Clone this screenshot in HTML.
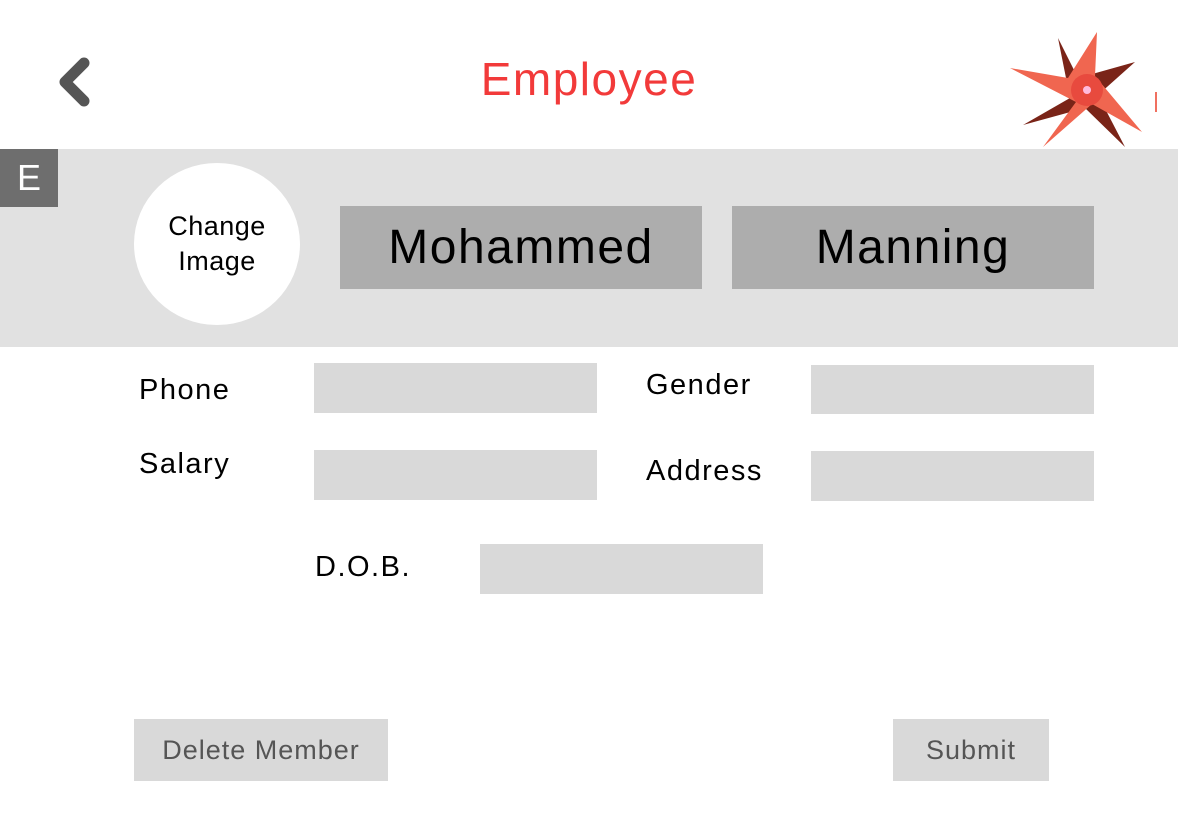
<!DOCTYPE html>
<html><head><style>
body{margin:0;width:1178px;height:838px;background:#fff;position:relative;overflow:hidden;font-family:"Liberation Sans",sans-serif}
.a{position:absolute}
.f{position:absolute;background:#d9d9d9}
.l{position:absolute;font-size:29px;color:#000;line-height:1;letter-spacing:1.5px}
</style></head><body>
<svg class="a" style="left:0;top:0" width="1178" height="160">
<polyline points="84,63 65,82 84,101" fill="none" stroke="#555" stroke-width="11" stroke-linecap="round" stroke-linejoin="round"/>
<polygon points="1058,38 1078,78 1135,62 1098,95 1125,147 1085,108 1023,125 1070,98" fill="#7a2418"/>
<polygon points="1097,32 1095,76 1142,132 1092,104 1043,147 1076,102 1010,68 1068,78" fill="#f06650"/>
<circle cx="1087" cy="90" r="16" fill="#e84a3e"/>
<circle cx="1087" cy="90" r="4" fill="#fbd"/>
<rect x="1155" y="92" width="2" height="20" fill="#f07060"/>
</svg>
<div class="a" style="left:0;top:56px;width:1178px;text-align:center;font-size:46px;color:#f23a3a;line-height:1;letter-spacing:1.5px">Employee</div>
<div class="a" style="left:0;top:149px;width:1178px;height:198px;background:#e1e1e1"></div>
<div class="a" style="left:0;top:149px;width:58px;height:58px;background:#6e6e6e;color:#fff;font-size:36px;line-height:58px;text-align:center">E</div>
<div class="a" style="left:134px;top:163px;width:166px;height:162px;border-radius:50%;background:#fff;display:flex;align-items:center;justify-content:center;text-align:center;font-size:27px;line-height:35px;letter-spacing:0.5px">Change<br>Image</div>
<div class="a" style="left:340px;top:206px;width:362px;height:83px;background:#adadad;font-size:48px;line-height:83px;text-align:center;letter-spacing:1.5px">Mohammed</div>
<div class="a" style="left:732px;top:206px;width:362px;height:83px;background:#adadad;font-size:48px;line-height:83px;text-align:center;letter-spacing:1.5px">Manning</div>
<div class="l" style="left:139px;top:376px">Phone</div>
<div class="l" style="left:139px;top:450px">Salary</div>
<div class="l" style="left:646px;top:371px">Gender</div>
<div class="l" style="left:646px;top:457px">Address</div>
<div class="l" style="left:315px;top:553px">D.O.B.</div>
<div class="f" style="left:314px;top:363px;width:283px;height:50px"></div>
<div class="f" style="left:314px;top:450px;width:283px;height:50px"></div>
<div class="f" style="left:811px;top:365px;width:283px;height:49px"></div>
<div class="f" style="left:811px;top:451px;width:283px;height:50px"></div>
<div class="f" style="left:480px;top:544px;width:283px;height:50px"></div>
<div class="f" style="left:134px;top:719px;width:254px;height:62px;color:#555;font-size:27px;line-height:62px;text-align:center;letter-spacing:1px">Delete Member</div>
<div class="f" style="left:893px;top:719px;width:156px;height:62px;color:#555;font-size:27px;line-height:62px;text-align:center;letter-spacing:1px">Submit</div>
</body></html>
